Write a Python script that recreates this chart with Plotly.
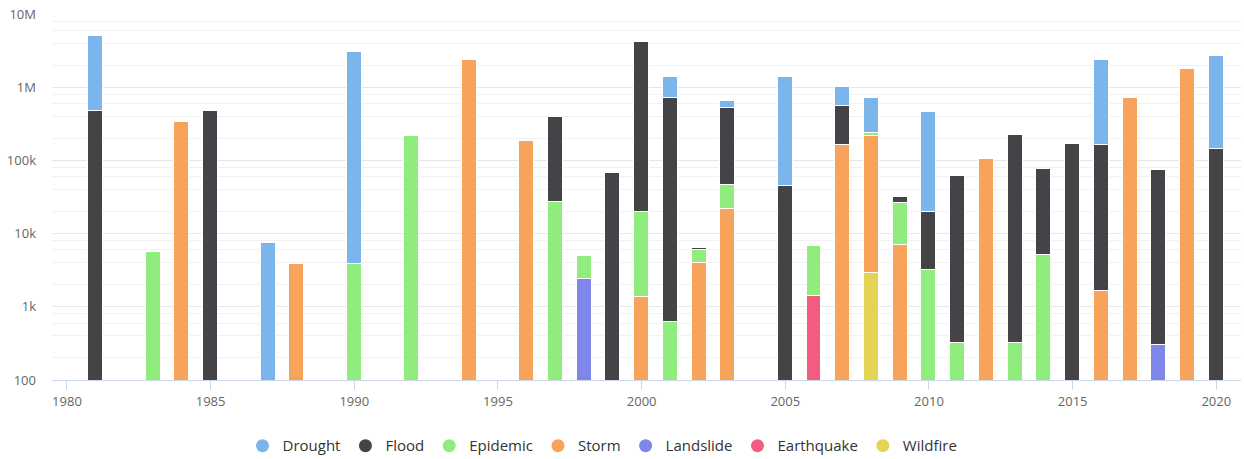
import plotly.graph_objects as go

years = list(range(1981, 2021))

# values per year (None = no data)
drought = {1981: 4600000, 1987: 7500, 1990: 3050000, 2001: 665000, 2003: 130000,
           2005: 1330000, 2007: 460000, 2008: 466000, 2010: 435000, 2016: 2200000,
           2020: 2550000}
flood = {1981: 480000, 1985: 475000, 1997: 368000, 1999: 67000, 2000: 4170000,
         2001: 710000, 2002: 400, 2003: 470000, 2005: 45000, 2007: 387000,
         2009: 6000, 2010: 16300, 2011: 61000, 2013: 222000, 2014: 71000,
         2015: 169000, 2016: 162000, 2018: 73000, 2020: 143000}
epidemic = {1983: 5550, 1990: 3900, 1992: 215000, 1997: 27300, 1998: 2500,
            2000: 18500, 2001: 620, 2002: 2000, 2003: 23500, 2006: 5400,
            2008: 21000, 2009: 19000, 2010: 3200, 2011: 317, 2013: 317, 2014: 5050}
storm = {1984: 332000, 1988: 3850, 1994: 2360000, 1996: 186000, 2000: 1370,
         2002: 3960, 2003: 22000, 2007: 161000, 2008: 215000, 2009: 7000,
         2012: 104000, 2016: 1640, 2017: 705000, 2019: 1790000}
landslide = {1998: 2420, 2018: 300}
earthquake = {2006: 1420}
wildfire = {2008: 2930}

series = [
    ("Drought", drought, "#7cb5ec"),
    ("Flood", flood, "#434348"),
    ("Epidemic", epidemic, "#90ed7d"),
    ("Storm", storm, "#f7a35c"),
    ("Landslide", landslide, "#8085e9"),
    ("Earthquake", earthquake, "#f15c80"),
    ("Wildfire", wildfire, "#e4d354"),
]

tick_vals = [100, 1000, 10000, 100000, 1000000, 10000000]
tick_text = ["100", "1k", "10k", "100k", "1M", "10M"]
x_ticks = [1980, 1985, 1990, 1995, 2000, 2005, 2010, 2015, 2020]
minor_vals = [v * m for v in [100, 1000, 10000, 100000, 1000000] for m in (2, 4, 6, 8)]

fig = go.Figure()

# bars: bottom of stack first
for name, data, color in reversed(series):
    fig.add_trace(go.Bar(
        x=years,
        y=[data.get(y) for y in years],
        name=name,
        marker=dict(color=color, line=dict(color="white", width=1)),
        width=0.52,
        showlegend=False,
        legendgroup=name,
    ))

# legend entries with round symbols
for rank, (name, data, color) in enumerate(series):
    fig.add_trace(go.Scatter(
        x=[None], y=[None], mode="markers", name=name,
        marker=dict(color=color, size=13, symbol="circle"),
        legendgroup=name, legendrank=rank + 1,
    ))

fig.update_layout(
    width=1244, height=459,
    margin=dict(l=52, r=3, t=14, b=79, autoexpand=False),
    barmode="stack",
    bargap=0,
    paper_bgcolor="white",
    plot_bgcolor="white",
    font=dict(family="Open Sans, sans-serif", color="#666666", size=13),
    showlegend=True,
    legend=dict(orientation="h", x=0.463, xanchor="center", y=-0.18, yanchor="middle",
                font=dict(size=15, color="#333333"), itemwidth=30,
                traceorder="normal"),
)

fig.update_xaxes(
    range=[1979.48, 2020.86],
    tickvals=x_ticks,
    ticks="outside", ticklen=9, tickcolor="#ccd6eb",
    showline=True, linecolor="#ccd6eb", linewidth=1,
    showgrid=False, zeroline=False,
    tickfont=dict(size=13, color="#666666"),
)
fig.update_yaxes(
    type="log",
    range=[2, 7],
    tickvals=tick_vals, ticktext=tick_text,
    showgrid=True, gridcolor="#e6e6e6", gridwidth=1,
    minor=dict(showgrid=True, gridcolor="#f1f1f1", tickvals=minor_vals),
    zeroline=False, showline=False,
    tickfont=dict(size=13, color="#666666"),
    ticklabelstandoff=15,
)

fig.write_html(
    "out.html",
    config={"displayModeBar": False},
    post_script="document.body.style.margin='0';document.body.style.overflow='hidden';",
)
